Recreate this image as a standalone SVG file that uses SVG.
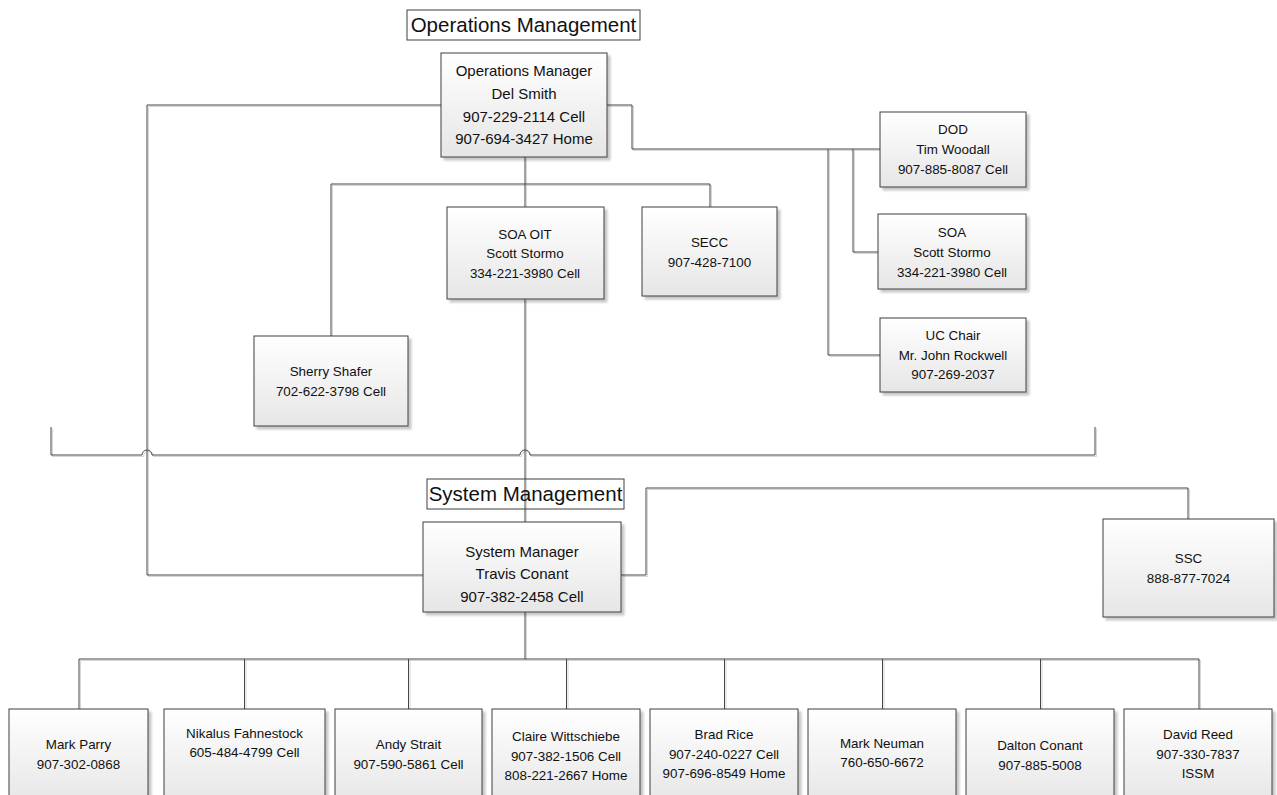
<svg xmlns="http://www.w3.org/2000/svg" xmlns:xlink="http://www.w3.org/1999/xlink" width="1277" height="795" viewBox="0 0 1277 795">
<defs>
<linearGradient id="boxgrad" x1="0" y1="0" x2="0" y2="1">
<stop offset="0" stop-color="#ffffff"/>
<stop offset="1" stop-color="#e6e6e6"/>
</linearGradient>
<filter id="shadow" x="-10%" y="-10%" width="130%" height="130%">
<feDropShadow dx="3" dy="3" stdDeviation="1.2" flood-color="#000000" flood-opacity="0.22"/>
</filter>
<style>
.box{fill:url(#boxgrad);stroke:#3f3f3f;stroke-width:1;filter:url(#shadow)}
.lbl{fill:#ffffff;stroke:#3f3f3f;stroke-width:1}
.t{font-family:"Liberation Sans",Arial,sans-serif;fill:#111;text-anchor:middle}
.s{font-size:13.4px}
.m{font-size:15px}
.h{font-size:20.5px}
.conn{fill:none;stroke-width:1}
</style>
</defs>
<rect width="1277" height="795" fill="#ffffff"/>

<g id="connectors-shadow" class="conn" stroke="#d6d6d6">
<use xlink:href="#connector-paths" href="#connector-paths" transform="translate(1.5,1.5)"/>
</g>
<g id="connectors" class="conn" stroke="#454545">
<g id="connector-paths">
<path d="M441,105 H147 V575 H423"/>
<path d="M607,105 H632 V149 H880"/>
<path d="M853,149 V252 H878"/>
<path d="M828,149 V355 H880"/>
<path d="M525,157 V207"/>
<path d="M331,336 V184 H710 V207"/>
<path d="M525,299 V522"/>
<path d="M51,427 V455 H142 A5,5 0 0 1 152,455 H520 A5,5 0 0 1 530,455 H1095 V427"/>
<path d="M621,575 H646 V488 H1188 V519"/>
<path d="M525,612 V659"/>
<path d="M79,709 V659 H1199 V709"/>
<path d="M244.5,659 V709"/>
<path d="M408.5,659 V709"/>
<path d="M566.5,659 V709"/>
<path d="M724.5,659 V709"/>
<path d="M882.5,659 V709"/>
<path d="M1040.5,659 V709"/>
</g>
</g>

<g id="label-operations-management">
<rect class="lbl" x="407" y="10" width="233" height="30" fill-opacity="0"/>
<text class="t h" x="523.5" y="32">Operations Management</text>
</g>

<g id="node-ops-manager">
<rect class="box" x="441" y="53" width="166" height="104"/>
<text class="t m" x="524" y="76">Operations Manager</text>
<text class="t m" x="524" y="99">Del Smith</text>
<text class="t m" x="524" y="122">907-229-2114 Cell</text>
<text class="t m" x="524" y="144">907-694-3427 Home</text>
</g>

<g id="node-soa-oit">
<rect class="box" x="447" y="207" width="157" height="92"/>
<text class="t s" x="525" y="239">SOA OIT</text>
<text class="t s" x="525" y="258">Scott Stormo</text>
<text class="t s" x="525" y="278">334-221-3980 Cell</text>
</g>

<g id="node-secc">
<rect class="box" x="642" y="207" width="135" height="89"/>
<text class="t s" x="709.5" y="247">SECC</text>
<text class="t s" x="709.5" y="267">907-428-7100</text>
</g>

<g id="node-dod">
<rect class="box" x="880" y="112" width="146" height="75"/>
<text class="t s" x="953" y="134">DOD</text>
<text class="t s" x="953" y="154">Tim Woodall</text>
<text class="t s" x="953" y="174">907-885-8087 Cell</text>
</g>

<g id="node-soa">
<rect class="box" x="878" y="214" width="148" height="75"/>
<text class="t s" x="952" y="237">SOA</text>
<text class="t s" x="952" y="257">Scott Stormo</text>
<text class="t s" x="952" y="277">334-221-3980 Cell</text>
</g>

<g id="node-uc-chair">
<rect class="box" x="880" y="318" width="146" height="74"/>
<text class="t s" x="953" y="340">UC Chair</text>
<text class="t s" x="953" y="360">Mr. John Rockwell</text>
<text class="t s" x="953" y="379">907-269-2037</text>
</g>

<g id="node-sherry">
<rect class="box" x="254" y="336" width="154" height="90"/>
<text class="t s" x="331" y="376">Sherry Shafer</text>
<text class="t s" x="331" y="396">702-622-3798 Cell</text>
</g>

<g id="label-system-management">
<rect class="lbl" x="427" y="479" width="197" height="30" fill-opacity="0"/>
<text class="t h" x="525.5" y="501">System Management</text>
</g>

<g id="node-system-manager">
<rect class="box" x="423" y="522" width="198" height="90"/>
<text class="t m" x="522" y="557">System Manager</text>
<text class="t m" x="522" y="579">Travis Conant</text>
<text class="t m" x="522" y="602">907-382-2458 Cell</text>
</g>

<g id="node-ssc">
<rect class="box" x="1103" y="519" width="171" height="98"/>
<text class="t s" x="1188.5" y="563">SSC</text>
<text class="t s" x="1188.5" y="583">888-877-7024</text>
</g>

<g id="node-mark-parry">
<rect class="box" x="9" y="709" width="139" height="95"/>
<text class="t s" x="78.5" y="749">Mark Parry</text>
<text class="t s" x="78.5" y="769">907-302-0868</text>
</g>

<g id="node-nikalus">
<rect class="box" x="164" y="709" width="161" height="95"/>
<text class="t s" x="244.5" y="738">Nikalus Fahnestock</text>
<text class="t s" x="244.5" y="757">605-484-4799 Cell</text>
</g>

<g id="node-andy">
<rect class="box" x="335" y="709" width="147" height="95"/>
<text class="t s" x="408.5" y="749">Andy Strait</text>
<text class="t s" x="408.5" y="769">907-590-5861 Cell</text>
</g>

<g id="node-claire">
<rect class="box" x="492" y="709" width="148" height="95"/>
<text class="t s" x="566" y="741">Claire Wittschiebe</text>
<text class="t s" x="566" y="761">907-382-1506 Cell</text>
<text class="t s" x="566" y="780">808-221-2667 Home</text>
</g>

<g id="node-brad">
<rect class="box" x="650" y="709" width="148" height="95"/>
<text class="t s" x="724" y="739">Brad Rice</text>
<text class="t s" x="724" y="759">907-240-0227 Cell</text>
<text class="t s" x="724" y="778">907-696-8549 Home</text>
</g>

<g id="node-mark-neuman">
<rect class="box" x="808" y="709" width="148" height="95"/>
<text class="t s" x="882" y="748">Mark Neuman</text>
<text class="t s" x="882" y="767">760-650-6672</text>
</g>

<g id="node-dalton">
<rect class="box" x="966" y="709" width="148" height="95"/>
<text class="t s" x="1040" y="750">Dalton Conant</text>
<text class="t s" x="1040" y="770">907-885-5008</text>
</g>

<g id="node-david">
<rect class="box" x="1124" y="709" width="148" height="95"/>
<text class="t s" x="1198" y="739">David Reed</text>
<text class="t s" x="1198" y="759">907-330-7837</text>
<text class="t s" x="1198" y="778">ISSM</text>
</g>
</svg>
